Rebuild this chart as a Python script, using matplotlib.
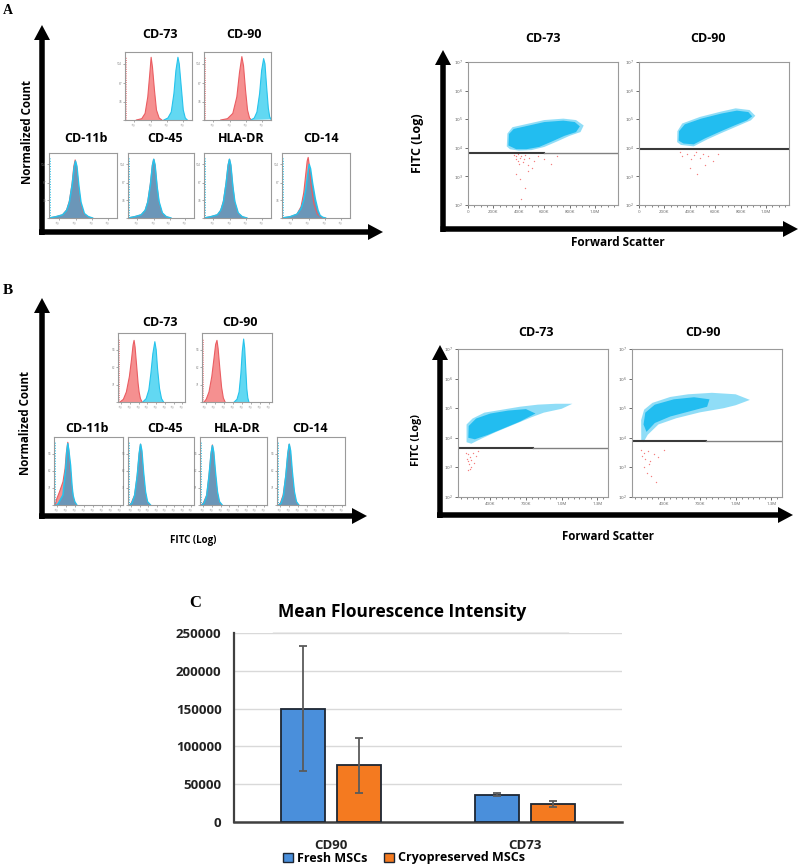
import matplotlib
matplotlib.use('Agg')
import matplotlib.pyplot as plt
from matplotlib.patches import FancyArrow, Polygon, Patch
import numpy as np

plt.rcParams['font.family'] = ['Open Sans', 'DejaVu Sans']

# ---------------- Panel C data ----------------
categories = ['CD90', 'CD73']
series_names = ['Fresh MSCs', 'Cryopreserved MSCs']
fresh = [150000, 36000]
fresh_err = [82500, 2000]
cryo = [75000, 24000]
cryo_err = [36500, 4000]
mfi_yticks = [0, 50000, 100000, 150000, 200000, 250000]

# ---------------- Histogram outlines (x: fraction of log axis, y: normalized count) ----------------
A_cd73_red = [(0.17, 0), (0.25, 0.02), (0.30, 0.1), (0.34, 0.35), (0.37, 0.7), (0.39, 0.95), (0.41, 0.8), (0.44, 0.45), (0.47, 0.15), (0.51, 0.03), (0.55, 0)]
A_cd73_cyan = [(0.58, 0), (0.64, 0.03), (0.69, 0.12), (0.73, 0.4), (0.76, 0.75), (0.79, 0.95), (0.81, 0.85), (0.84, 0.5), (0.87, 0.15), (0.90, 0.03), (0.93, 0)]
A_cd90_red = [(0.25, 0), (0.35, 0.02), (0.43, 0.1), (0.49, 0.35), (0.53, 0.72), (0.565, 0.96), (0.59, 0.82), (0.62, 0.45), (0.65, 0.15), (0.68, 0.03), (0.71, 0)]
A_cd90_cyan = [(0.70, 0), (0.75, 0.03), (0.79, 0.12), (0.83, 0.4), (0.86, 0.75), (0.89, 0.93), (0.91, 0.85), (0.935, 0.5), (0.96, 0.18), (0.98, 0.05), (1.0, 0.01)]
A_cd11b_red = [(0.0, 0), (0.1, 0.02), (0.2, 0.05), (0.26, 0.13), (0.30, 0.27), (0.34, 0.55), (0.365, 0.82), (0.385, 0.92), (0.405, 0.82), (0.435, 0.5), (0.465, 0.24), (0.51, 0.07), (0.57, 0.02), (0.63, 0)]
A_cd11b_cyan = [(0.0, 0), (0.1, 0.02), (0.2, 0.05), (0.26, 0.12), (0.30, 0.25), (0.34, 0.52), (0.37, 0.8), (0.39, 0.9), (0.41, 0.82), (0.44, 0.5), (0.47, 0.25), (0.52, 0.07), (0.58, 0.02), (0.64, 0)]
A_cd45_red = [(0.0, 0), (0.1, 0.02), (0.2, 0.05), (0.26, 0.12), (0.30, 0.26), (0.34, 0.55), (0.37, 0.84), (0.39, 0.93), (0.41, 0.83), (0.44, 0.5), (0.47, 0.24), (0.52, 0.07), (0.58, 0.02), (0.64, 0)]
A_cd45_cyan = [(0.0, 0), (0.1, 0.02), (0.2, 0.05), (0.26, 0.12), (0.30, 0.25), (0.34, 0.53), (0.37, 0.83), (0.39, 0.93), (0.41, 0.84), (0.44, 0.5), (0.47, 0.26), (0.52, 0.08), (0.58, 0.02), (0.65, 0)]
A_hladr_red = [(0.0, 0), (0.1, 0.02), (0.2, 0.05), (0.25, 0.12), (0.29, 0.27), (0.33, 0.56), (0.36, 0.84), (0.38, 0.93), (0.40, 0.83), (0.43, 0.5), (0.46, 0.24), (0.51, 0.07), (0.57, 0.02), (0.63, 0)]
A_hladr_cyan = [(0.0, 0), (0.1, 0.02), (0.2, 0.05), (0.25, 0.12), (0.29, 0.25), (0.33, 0.54), (0.36, 0.83), (0.38, 0.93), (0.40, 0.84), (0.43, 0.5), (0.46, 0.26), (0.51, 0.08), (0.57, 0.02), (0.64, 0)]
A_cd14_red = [(0.0, 0), (0.12, 0.02), (0.22, 0.06), (0.28, 0.18), (0.32, 0.4), (0.35, 0.7), (0.37, 0.9), (0.385, 0.96), (0.40, 0.85), (0.43, 0.5), (0.47, 0.22), (0.52, 0.06), (0.58, 0.01), (0.63, 0)]
A_cd14_cyan = [(0.0, 0), (0.12, 0.02), (0.22, 0.06), (0.28, 0.15), (0.32, 0.28), (0.35, 0.45), (0.38, 0.7), (0.40, 0.85), (0.42, 0.78), (0.45, 0.55), (0.49, 0.3), (0.53, 0.12), (0.56, 0.04), (0.60, 0.01), (0.64, 0)]

B_cd73_red = [(0.03, 0), (0.08, 0.04), (0.125, 0.15), (0.17, 0.38), (0.2, 0.62), (0.225, 0.85), (0.24, 0.92), (0.255, 0.82), (0.275, 0.58), (0.3, 0.28), (0.315, 0.15), (0.335, 0.05), (0.36, 0)]
B_cd73_cyan = [(0.37, 0), (0.42, 0.05), (0.46, 0.18), (0.49, 0.42), (0.52, 0.72), (0.55, 0.9), (0.57, 0.78), (0.59, 0.5), (0.62, 0.2), (0.65, 0.05), (0.68, 0)]
B_cd90_red = [(0.03, 0), (0.06, 0.04), (0.1, 0.15), (0.14, 0.38), (0.17, 0.64), (0.195, 0.86), (0.214, 0.92), (0.23, 0.8), (0.255, 0.5), (0.28, 0.22), (0.305, 0.06), (0.33, 0)]
B_cd90_cyan = [(0.46, 0), (0.5, 0.04), (0.53, 0.15), (0.555, 0.42), (0.575, 0.75), (0.595, 0.94), (0.61, 0.8), (0.625, 0.5), (0.64, 0.2), (0.655, 0.06), (0.67, 0)]
B_cd11b_red = [(0.02, 0), (0.035, 0.08), (0.08, 0.2), (0.13, 0.35), (0.16, 0.55), (0.18, 0.8), (0.2, 0.95), (0.215, 0.82), (0.235, 0.55), (0.26, 0.25), (0.285, 0.08), (0.32, 0)]
B_cd11b_cyan = [(0.04, 0), (0.06, 0.02), (0.13, 0.15), (0.17, 0.55), (0.185, 0.8), (0.2, 0.93), (0.215, 0.82), (0.24, 0.6), (0.26, 0.3), (0.275, 0.15), (0.3, 0.05), (0.33, 0)]
B_cd45_red = [(0.02, 0), (0.05, 0.03), (0.1, 0.15), (0.14, 0.45), (0.17, 0.78), (0.19, 0.92), (0.205, 0.82), (0.23, 0.5), (0.26, 0.2), (0.29, 0.05), (0.33, 0)]
B_cd45_cyan = [(0.03, 0), (0.06, 0.03), (0.1, 0.14), (0.14, 0.44), (0.17, 0.78), (0.19, 0.92), (0.21, 0.82), (0.235, 0.5), (0.265, 0.2), (0.295, 0.05), (0.34, 0)]
B_hladr_red = [(0.02, 0), (0.05, 0.03), (0.1, 0.15), (0.135, 0.45), (0.165, 0.78), (0.185, 0.91), (0.2, 0.82), (0.225, 0.5), (0.255, 0.2), (0.285, 0.05), (0.32, 0)]
B_hladr_cyan = [(0.03, 0), (0.06, 0.03), (0.1, 0.14), (0.135, 0.44), (0.165, 0.77), (0.185, 0.9), (0.205, 0.8), (0.23, 0.5), (0.26, 0.2), (0.29, 0.05), (0.33, 0)]
B_cd14_red = [(0.02, 0), (0.05, 0.03), (0.09, 0.15), (0.13, 0.45), (0.16, 0.78), (0.18, 0.92), (0.195, 0.82), (0.22, 0.5), (0.25, 0.2), (0.28, 0.05), (0.31, 0)]
B_cd14_cyan = [(0.03, 0), (0.06, 0.03), (0.095, 0.14), (0.13, 0.44), (0.16, 0.78), (0.18, 0.92), (0.2, 0.82), (0.225, 0.5), (0.255, 0.2), (0.285, 0.05), (0.32, 0)]

A_hist_xticks = [0.14, 0.39, 0.63, 0.87]
A_hist_yticks = [0.0, 0.28, 0.56, 0.85]
B_hist_xticks = [0.05, 0.18, 0.31, 0.44, 0.57, 0.70, 0.83, 0.96]
B_hist_yticks = [0.0, 0.26, 0.52, 0.78]

# ---------------- Scatter plots (x: forward scatter in K, y: log10 FITC) ----------------
pct_labels = ['99.2%', '99.8%', '99.3%', '99.5%']
gate_levels = [3.82, 3.96, 3.65, 3.90]
gate_dark_end = [600, 1180, 760, 753]

A_cd73_outer = [(305, 4.05), (310, 4.5), (350, 4.72), (450, 4.82), (600, 4.97), (750, 5.02), (850, 4.97), (910, 4.78), (885, 4.55), (800, 4.42), (700, 4.22), (600, 4.03), (500, 3.92), (400, 3.9), (330, 3.95)]
A_cd73_core = [(318, 4.08), (322, 4.48), (360, 4.66), (460, 4.76), (600, 4.9), (750, 4.95), (840, 4.9), (880, 4.75), (850, 4.55), (760, 4.42), (660, 4.22), (560, 4.03), (460, 3.95), (380, 3.95)]
A_cd90_outer = [(300, 4.2), (302, 4.58), (340, 4.85), (480, 5.08), (640, 5.26), (760, 5.38), (870, 5.32), (915, 5.12), (880, 4.96), (760, 4.73), (640, 4.5), (540, 4.3), (430, 4.05), (330, 4.1)]
A_cd90_core = [(312, 4.25), (315, 4.58), (360, 4.82), (490, 5.02), (650, 5.2), (770, 5.3), (860, 5.25), (890, 5.1), (850, 4.96), (750, 4.78), (630, 4.55), (520, 4.33), (430, 4.12), (350, 4.15)]
B_cd73_outer = [(200, 3.85), (200, 4.45), (250, 4.65), (350, 4.85), (500, 4.95), (650, 5.05), (800, 5.12), (950, 5.15), (1090, 5.15), (1000, 4.98), (850, 4.85), (750, 4.7), (600, 4.45), (450, 4.2), (330, 3.98), (240, 3.8)]
B_cd73_core = [(215, 4.0), (218, 4.4), (280, 4.65), (400, 4.82), (550, 4.92), (700, 4.97), (780, 4.82), (650, 4.55), (500, 4.3), (380, 4.1), (270, 3.95)]
B_cd90_outer = [(206, 3.9), (205, 4.6), (230, 4.95), (300, 5.18), (450, 5.38), (600, 5.47), (800, 5.52), (1000, 5.47), (1120, 5.28), (1000, 5.1), (900, 5.0), (700, 4.86), (500, 4.66), (350, 4.45), (260, 4.1), (225, 3.85)]
B_cd90_core = [(225, 4.45), (240, 4.85), (320, 5.12), (480, 5.3), (650, 5.37), (780, 5.3), (760, 5.05), (600, 4.88), (450, 4.72), (320, 4.5), (250, 4.2)]

A_cd73_red_x = [360, 375, 380, 390, 395, 400, 410, 420, 430, 440, 450, 470, 480, 500, 520, 550, 600, 650, 700, 380, 410, 450, 470, 420]
A_cd73_red_y = [3.75, 3.6, 3.7, 3.55, 3.8, 3.45, 3.65, 3.7, 3.5, 3.6, 3.75, 3.4, 3.65, 3.3, 3.55, 3.7, 3.6, 3.45, 3.7, 3.1, 2.9, 2.6, 3.2, 2.2]
A_cd90_red_x = [320, 340, 380, 410, 430, 450, 480, 500, 540, 580, 620, 400, 460, 520]
A_cd90_red_y = [3.85, 3.7, 3.8, 3.6, 3.75, 3.85, 3.65, 3.8, 3.7, 3.55, 3.8, 3.3, 3.1, 3.4]
B_cd73_red_x = [195, 205, 210, 215, 220, 225, 235, 240, 250, 265, 280, 300, 215, 230]
B_cd73_red_y = [3.5, 3.3, 3.2, 3.45, 3.1, 3.35, 3.0, 3.25, 3.5, 3.15, 3.4, 3.55, 2.9, 2.95]
B_cd90_red_x = [200, 215, 225, 240, 260, 280, 310, 350, 400, 230, 250, 290, 330, 270]
B_cd90_red_y = [3.6, 3.4, 3.5, 3.3, 3.55, 3.2, 3.45, 3.35, 3.6, 3.0, 2.8, 2.7, 2.5, 3.1]

A_fsc_xlim = (0, 1180)
A_fsc_ticks = [0, 200, 400, 600, 800, 1000]
A_fsc_labels = ['0', '200K', '400K', '600K', '800K', '1.0M']
B_fsc_xlim = (128, 1390)
B_fsc_ticks = [400, 700, 1000, 1300]
B_fsc_labels = ['400K', '700K', '1.0M', '1.3M']
fitc_ticks = [2, 3, 4, 5, 6, 7]

# ---------------- styling ----------------
RED_FILL, RED_LINE = '#f59090', '#ea5d62'
CYAN_FILL, CYAN_LINE = '#62d8f2', '#25c3ec'
STEEL = '#6b96b8'
CLOUD = '#22bdf0'
BLUE, ORANGE = '#4a8fdb', '#f47a20'

W, H = 800, 865
fig = plt.figure(figsize=(8, 8.65), dpi=100)


def rect(x0, y0, x1, y1):
    return [x0 / W, 1 - y1 / H, (x1 - x0) / W, (y1 - y0) / H]


ov = fig.add_axes([0, 0, 1, 1])
ov.set_xlim(0, W)
ov.set_ylim(H, 0)
ov.axis('off')


def arrow(x0, y0, x1, y1):
    ov.add_patch(FancyArrow(x0, y0, x1 - x0, y1 - y0, width=5.5, head_width=16,
                            head_length=15, length_includes_head=True,
                            color='black', lw=0))


def style_box(ax):
    for s in ax.spines.values():
        s.set_color('#9a9a9a')
        s.set_linewidth(0.8)


def hist_panel(box, title, tx, ty, red, cyan, overlap, xt, yt):
    ax = fig.add_axes(rect(*box))
    rx, ry = zip(*red)
    cx, cy = zip(*cyan)
    if overlap:
        ax.fill(rx, ry, color=RED_FILL, lw=0)
        ax.plot(rx, ry, color=RED_LINE, lw=0.8)
        ax.fill(cx, cy, color=STEEL, lw=0)
        ax.plot(cx, cy, color=CYAN_LINE, lw=1.1)
        ax.plot([0.012, 0.012], [0, 0.95], color=CYAN_LINE, lw=0.7, ls=':')
    else:
        ax.fill(rx, ry, color=RED_FILL, lw=0)
        ax.plot(rx, ry, color=RED_LINE, lw=0.8)
        ax.fill(cx, cy, color=CYAN_FILL, lw=0)
        ax.plot(cx, cy, color=CYAN_LINE, lw=0.8)
        ax.plot([0.012, 0.012], [0, 0.95], color=RED_LINE, lw=0.6, ls=':')
    ax.set_xlim(0, 1)
    ax.set_ylim(0, 1.03)
    ax.set_xticks(xt)
    ax.set_yticks(yt)
    ax.set_xticklabels(['10' for _ in xt], fontsize=2.2, color='#777', rotation=45)
    ax.set_yticklabels(['' if v == 0 else '%d' % round(v * 120) for v in yt], fontsize=2.2, color='#777')
    ax.tick_params(length=1.2, width=0.5, color='#888', pad=0.8)
    style_box(ax)
    ov.text(tx, ty, title, ha='center', va='center', fontsize=9, fontweight='bold')


def scatter_panel(box, title, tx, ty, pct, px, py, xlim, xt, xl, outer, core, rx, ry, gate, gate_end):
    ax = fig.add_axes(rect(*box))
    ax.add_patch(Polygon(outer, closed=True, fc=CLOUD, alpha=0.5, lw=0))
    ax.add_patch(Polygon(core, closed=True, fc=CLOUD, lw=0))
    ax.scatter(rx, ry, s=1.0, c='#f04848', lw=0, alpha=0.7)
    ax.plot([xlim[0], min(gate_end, xlim[1])], [gate, gate], color='#3a3a3a', lw=1.5)
    if gate_end < xlim[1]:
        ax.plot([gate_end, xlim[1]], [gate, gate], color='#808080', lw=1.0)
    ax.set_xlim(*xlim)
    ax.set_ylim(2, 7)
    ax.set_xticks(xt)
    ax.set_xticklabels(xl, fontsize=3.2, color='#666')
    ax.set_yticks(fitc_ticks)
    ax.set_yticklabels(['$10^{%d}$' % v for v in fitc_ticks], fontsize=3.2, color='#666')
    ax.set_xticks(np.arange(xlim[0] - xlim[0] % 50 + 50, xlim[1], 50), minor=True)
    ax.tick_params(length=2, width=0.6, color='#555', pad=1.5)
    ax.tick_params(which='minor', length=1.2, width=0.5, color='#555')
    style_box(ax)
    ov.text(tx, ty, title, ha='center', va='center', fontsize=9, fontweight='bold')
    ov.text(px, py, pct, ha='center', va='center', fontsize=9.5, fontweight='bold')


# ---------------- Panel A ----------------
ov.text(7.5, 10.5, 'A', ha='center', va='center', fontsize=10, fontweight='bold', family='Liberation Serif')
arrow(42, 235, 42, 25)
arrow(39, 232, 383, 232)
ov.text(28, 132, 'Normalized Count', rotation=90, ha='center', va='center', fontsize=8.3, fontweight='bold')
hist_panel((125, 52, 192, 120), 'CD-73', 160, 35, A_cd73_red, A_cd73_cyan, False, A_hist_xticks, A_hist_yticks)
hist_panel((204, 52, 271, 120), 'CD-90', 244, 35, A_cd90_red, A_cd90_cyan, False, A_hist_xticks, A_hist_yticks)
hist_panel((49, 153, 117, 218), 'CD-11b', 86, 138, A_cd11b_red, A_cd11b_cyan, True, A_hist_xticks, A_hist_yticks)
hist_panel((128, 153, 194, 218), 'CD-45', 165, 138, A_cd45_red, A_cd45_cyan, True, A_hist_xticks, A_hist_yticks)
hist_panel((204, 153, 271, 218), 'HLA-DR', 241, 138, A_hladr_red, A_hladr_cyan, True, A_hist_xticks, A_hist_yticks)
hist_panel((282, 153, 350, 218), 'CD-14', 321, 138, A_cd14_red, A_cd14_cyan, True, A_hist_xticks, A_hist_yticks)

arrow(443, 232, 443, 50)
arrow(440.5, 229, 798, 229)
ov.text(417, 143, 'FITC (Log)', rotation=90, ha='center', va='center', fontsize=9, fontweight='bold')
ov.text(618, 243, 'Forward Scatter', ha='center', va='center', fontsize=8.5, fontweight='bold')
scatter_panel((468, 62, 618, 205), 'CD-73', 543, 38, pct_labels[0], 584, 76, A_fsc_xlim, A_fsc_ticks, A_fsc_labels,
              A_cd73_outer, A_cd73_core, A_cd73_red_x, A_cd73_red_y, gate_levels[0], gate_dark_end[0])
scatter_panel((639, 62, 789, 205), 'CD-90', 708, 38, pct_labels[1], 754, 76, A_fsc_xlim, A_fsc_ticks, A_fsc_labels,
              A_cd90_outer, A_cd90_core, A_cd90_red_x, A_cd90_red_y, gate_levels[1], gate_dark_end[1])

# ---------------- Panel B ----------------
ov.text(7.5, 291, 'B', ha='center', va='center', fontsize=11, fontweight='bold', family='Liberation Serif')
arrow(42, 519, 42, 298)
arrow(39, 516, 367, 516)
ov.text(26, 423, 'Normalized Count', rotation=90, ha='center', va='center', fontsize=8.3, fontweight='bold')
ov.text(193, 540, 'FITC (Log)', ha='center', va='center', fontsize=7, fontweight='bold')
hist_panel((118, 333, 185, 402), 'CD-73', 160, 322, B_cd73_red, B_cd73_cyan, False, B_hist_xticks, B_hist_yticks)
hist_panel((202, 333, 272, 402), 'CD-90', 240, 322, B_cd90_red, B_cd90_cyan, False, B_hist_xticks, B_hist_yticks)
hist_panel((54, 437, 123, 505), 'CD-11b', 87, 428, B_cd11b_red, B_cd11b_cyan, True, B_hist_xticks, B_hist_yticks)
hist_panel((128, 437, 194, 505), 'CD-45', 165, 428, B_cd45_red, B_cd45_cyan, True, B_hist_xticks, B_hist_yticks)
hist_panel((200, 437, 267, 505), 'HLA-DR', 237, 428, B_hladr_red, B_hladr_cyan, True, B_hist_xticks, B_hist_yticks)
hist_panel((277, 437, 345, 505), 'CD-14', 310, 428, B_cd14_red, B_cd14_cyan, True, B_hist_xticks, B_hist_yticks)

arrow(440, 518, 440, 345)
arrow(437, 515, 793, 515)
ov.text(417, 440, 'FITC (Log)', rotation=90, ha='center', va='center', fontsize=7.8, fontweight='bold')
ov.text(608, 537, 'Forward Scatter', ha='center', va='center', fontsize=8.3, fontweight='bold')
scatter_panel((458, 349, 608, 497), 'CD-73', 536, 333, pct_labels[2], 571, 370, B_fsc_xlim, B_fsc_ticks, B_fsc_labels,
              B_cd73_outer, B_cd73_core, B_cd73_red_x, B_cd73_red_y, gate_levels[2], gate_dark_end[2])
scatter_panel((632, 349, 782, 497), 'CD-90', 703, 333, pct_labels[3], 745, 370, B_fsc_xlim, B_fsc_ticks, B_fsc_labels,
              B_cd90_outer, B_cd90_core, B_cd90_red_x, B_cd90_red_y, gate_levels[3], gate_dark_end[3])

# ---------------- Panel C ----------------
ov.text(195, 603, 'C', ha='center', va='center', fontsize=12, fontweight='bold', family='Liberation Serif')
ov.text(402, 612, 'Mean Flourescence Intensity', ha='center', va='center', fontsize=12.5, fontweight='bold')
axc = fig.add_axes(rect(234, 633, 622, 822))
x = np.arange(len(categories))
bw, off = 0.227, 0.142
ekw = dict(ecolor='#5a5a5a', elinewidth=1.3, capsize=3, capthick=1.3)
axc.bar(x - off, fresh, bw, yerr=fresh_err, color=BLUE, edgecolor='#1d2633', lw=1.3, error_kw=ekw, zorder=3, label=series_names[0])
axc.bar(x + off, cryo, bw, yerr=cryo_err, color=ORANGE, edgecolor='#1d2633', lw=1.3, error_kw=ekw, zorder=3, label=series_names[1])
axc.set_xlim(-0.5, 1.5)
axc.set_ylim(0, 250000)
axc.set_yticks(mfi_yticks)
axc.set_yticklabels([str(v) for v in mfi_yticks], fontsize=9.5, fontweight='bold', color='#222')
axc.set_xticks(x)
axc.set_xticklabels(categories, fontsize=9.5, fontweight='bold', color='#222')
axc.tick_params(length=0, pad=9)
axc.tick_params(axis='x', pad=12)
axc.grid(axis='y', color='#d9d9d9', lw=1.0, zorder=0)
axc.set_axisbelow(True)
for s in ['top', 'right']:
    axc.spines[s].set_visible(False)
axc.spines['left'].set_color('#404040')
axc.spines['left'].set_linewidth(1.6)
axc.spines['bottom'].set_color('#404040')
axc.spines['bottom'].set_linewidth(1.8)
ov.plot([273, 568], [633, 633], color='#9a9a9a', lw=1.0)
handles = [Patch(facecolor=BLUE, edgecolor='#1d2633', lw=1.0), Patch(facecolor=ORANGE, edgecolor='#1d2633', lw=1.0)]
fig.legend(handles, series_names, loc='center', bbox_to_anchor=(404 / W, 1 - 858 / H), ncol=2, frameon=False,
           handlelength=0.75, handleheight=0.75, handletextpad=0.3, columnspacing=1.4,
           prop=dict(size=9, weight='bold'))

fig.savefig('out.png', dpi=100)
